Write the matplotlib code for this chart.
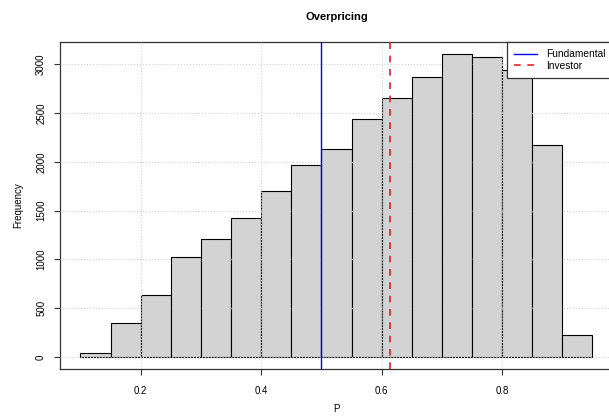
#!/usr/bin/env python3
import matplotlib
matplotlib.use("Agg")
import matplotlib.pyplot as plt

# histogram of P (bin width 0.05)
bin_edges = [0.10, 0.15, 0.20, 0.25, 0.30, 0.35, 0.40, 0.45, 0.50,
             0.55, 0.60, 0.65, 0.70, 0.75, 0.80, 0.85, 0.90, 0.95]
counts = [41, 349, 633, 1020, 1211, 1423, 1703, 1967, 2128,
          2436, 2657, 2866, 3106, 3075, 2938, 2169, 223]
fundamental = 0.500
investor = 0.614
xticks = [0.2, 0.4, 0.6, 0.8]
yticks = [0, 500, 1000, 1500, 2000, 2500, 3000]

plt.rcParams["font.family"] = ["Liberation Sans", "DejaVu Sans"]

fig = plt.figure(figsize=(6.09, 4.19), dpi=100)
ax = fig.add_axes([0.0985, 0.1193, 0.908, 0.7805])

lefts = bin_edges[:-1]
widths = [b - a for a, b in zip(bin_edges[:-1], bin_edges[1:])]
ax.bar(lefts, counts, width=widths, align="edge", color="#D3D3D3",
       edgecolor="black", linewidth=0.8, zorder=1)

ax.set_axisbelow(False)
ax.grid(True, color="#D3D3D3", linestyle=":", linewidth=0.8)

ax.axvline(fundamental, color="blue", linewidth=1.0, zorder=3, label="Fundamental")
ax.axvline(investor, color="#E02020", linewidth=1.2, linestyle=(0, (4, 4)),
           zorder=3, label="Investor")

ax.set_xlim(0.066, 0.984)
ax.set_ylim(-124, 3230)
ax.set_xticks(xticks)
ax.set_xticklabels([str(t) for t in xticks])
ax.set_yticks(yticks)
ax.set_yticklabels([str(t) for t in yticks], rotation=90, va="center")
ax.tick_params(axis="both", labelsize=7, length=4, width=0.8, color="#333333")
ax.tick_params(axis="x", pad=8)
ax.tick_params(axis="y", pad=6)
for s in ax.spines.values():
    s.set_linewidth(0.9)
    s.set_color("#333333")

ax.set_xlabel("P", fontsize=7, labelpad=6)
ax.set_ylabel("Frequency", fontsize=7, labelpad=9)
ax.set_title("Overpricing", fontsize=8, fontweight="bold", pad=16)

leg = ax.legend(loc="upper right", bbox_to_anchor=(1, 1), borderaxespad=0,
                fontsize=7.3, frameon=True, fancybox=False, handlelength=2.3,
                handletextpad=0.9, borderpad=0.7, labelspacing=0.15)
leg.get_frame().set_edgecolor("#333333")
leg.get_frame().set_linewidth(0.9)
leg.get_frame().set_alpha(1)

fig.savefig("out.png", dpi=100)
